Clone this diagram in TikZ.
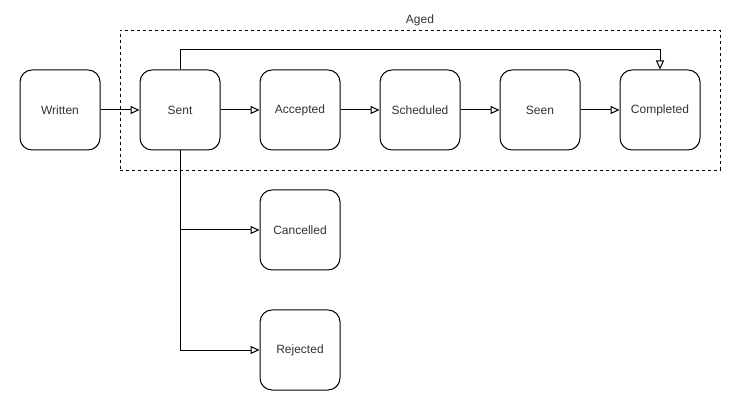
\documentclass[tikz,border=0pt]{standalone}
\usepackage{fontspec}
\setmainfont{Liberation Sans}
\usetikzlibrary{arrows.meta}
\definecolor{txt}{HTML}{333333}
\begin{document}
\begin{tikzpicture}[x=1pt,y=-1pt,
  state/.style={draw=black, line width=1pt, rounded corners=12pt, minimum width=80pt, minimum height=80pt, inner sep=0pt, text=txt, font=\fontsize{12}{14}\selectfont, fill=white},
  conn/.style={draw=black, line width=1pt, -{Triangle[open, length=9pt, width=8pt, fill=white]}},
  line/.style={draw=black, line width=1pt}]
\useasboundingbox (0,0) rectangle (741,411);
\node[draw=black, dash pattern=on 3pt off 3pt, line width=0.8pt, minimum width=600pt, minimum height=140pt, inner sep=0pt] (aged) at (420,100) {};
\node[text=txt, font=\fontsize{12}{14}\selectfont] (agedlbl) at (420,20) {Aged};
\node[state] (written) at (60,110) {Written};
\node[state] (sent) at (180,110) {Sent};
\node[state] (accepted) at (300,110) {Accepted};
\node[state] (scheduled) at (420,110) {Scheduled};
\node[state] (seen) at (540,110) {Seen};
\node[state] (completed) at (660,110) {Completed};
\node[state] (cancelled) at (300,230) {Cancelled};
\node[state] (rejected) at (300,350) {Rejected};
\coordinate (top1) at (180,50);
\coordinate (top2) at (660,50);
\coordinate (j1) at (180,230);
\coordinate (j2) at (180,350);
\draw[conn] (written) -- (sent);
\draw[conn] (sent) -- (accepted);
\draw[conn] (accepted) -- (scheduled);
\draw[conn] (scheduled) -- (seen);
\draw[conn] (seen) -- (completed);
\draw[conn] (sent.north) -- (top1) -- (top2) -- (completed.north);
\draw[line] (sent.south) -- (j2);
\draw[conn] (j1) -- (cancelled);
\draw[conn] (j2) -- (rejected);
\end{tikzpicture}
\end{document}
